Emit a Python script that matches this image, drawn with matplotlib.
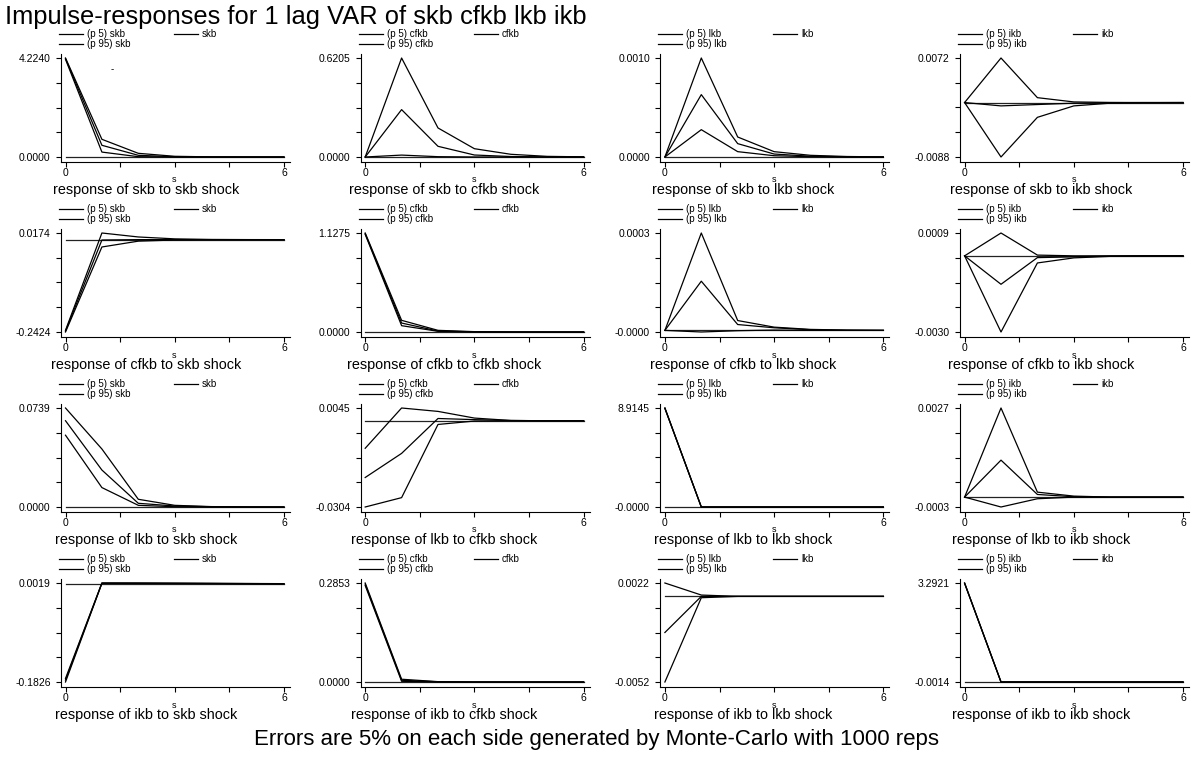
import numpy as np
import matplotlib.pyplot as plt
from matplotlib.lines import Line2D

plt.rcParams['font.family'] = ['Liberation Sans', 'DejaVu Sans']

W, H = 1192, 758

# variable order of the VAR
variables = ['skb', 'cfkb', 'lkb', 'ikb']
steps = [0, 1, 2, 3, 4, 5, 6]

# impulse responses: lo = 5th pct, irf = point estimate, hi = 95th pct
# row: response of skb
lo_skb_skb = [4.170, 0.210, 0.013, 0.001, 0.000, 0.000, 0.000]
irf_skb_skb = [4.200, 0.500, 0.072, 0.010, 0.002, 0.000, 0.000]
hi_skb_skb = [4.2240, 0.755, 0.157, 0.030, 0.006, 0.001, 0.000]

lo_skb_cfkb = [0, 0.012, 0.002, 0.0002, 0, 0, 0]
irf_skb_cfkb = [0, 0.297, 0.067, 0.0125, 0.003, 0.0005, 0.0001]
hi_skb_cfkb = [0, 0.6205, 0.182, 0.052, 0.017, 0.004, 0.001]

lo_skb_lkb = [0, 0.000276, 0.000054, 0.000013, 0.000003, 0, 0]
irf_skb_lkb = [0, 0.00063, 0.000135, 0.00003, 0.000008, 0.000002, 0]
hi_skb_lkb = [0, 0.0010, 0.000202, 0.000054, 0.000017, 0.000005, 0.000001]

lo_skb_ikb = [0, -0.0088, -0.00239, -0.00054, -0.0001, -0.00002, 0]
irf_skb_ikb = [0, -0.00054, -0.00032, -0.0001, -0.00003, 0, 0]
hi_skb_ikb = [0, 0.0072, 0.00079, 0.0001, 0.00002, 0, 0]

# row: response of cfkb
lo_cfkb_skb = [-0.2424, -0.0193, -0.0040, -0.0010, -0.0002, 0, 0]
irf_cfkb_skb = [-0.2400, -0.0010, 0.0000, 0.0000, 0, 0, 0]
hi_cfkb_skb = [-0.2380, 0.0174, 0.0070, 0.0020, 0.0005, 0.0001, 0]

lo_cfkb_cfkb = [1.1120, 0.072, 0.008, 0.001, 0, 0, 0]
irf_cfkb_cfkb = [1.1200, 0.102, 0.011, 0.002, 0, 0, 0]
hi_cfkb_cfkb = [1.1275, 0.133, 0.019, 0.004, 0.001, 0, 0]

lo_cfkb_lkb = [0, -0.000005, -0.000001, 0.000001, 0, 0, 0]
irf_cfkb_lkb = [0, 0.0001515, 0.000018, 0.000008, 0.000002, 0, 0]
hi_cfkb_lkb = [0, 0.00030, 0.0000303, 0.00001, 0.000003, 0.000001, 0]

lo_cfkb_ikb = [0, -0.0030, -0.00028, -0.00008, -0.00002, 0, 0]
irf_cfkb_ikb = [0, -0.00112, -0.00007, -0.00004, -0.00001, 0, 0]
hi_cfkb_ikb = [0, 0.0009, 0.00003, 0, 0, 0, 0]

# row: response of lkb
lo_lkb_skb = [0.0536, 0.0145, 0.00125, 0.0002, 0, 0, 0]
irf_lkb_skb = [0.0644, 0.0276, 0.00276, 0.00075, 0.0002, 0, 0]
hi_lkb_skb = [0.0739, 0.0433, 0.00576, 0.00125, 0.0003, 0.0001, 0]

lo_lkb_cfkb = [-0.0304, -0.0271, -0.0013, -0.0001, 0, 0, 0]
irf_lkb_cfkb = [-0.0200, -0.0115, 0.0008, 0.0004, 0.0001, 0, 0]
hi_lkb_cfkb = [-0.0097, 0.0045, 0.0033, 0.00095, 0.0001, 0, 0]

lo_lkb_lkb = [8.880, -0.00001, 0, 0, 0, 0, 0]
irf_lkb_lkb = [8.900, 0, 0, 0, 0, 0, 0]
hi_lkb_lkb = [8.9145, 0, 0, 0, 0, 0, 0]

lo_lkb_ikb = [0, -0.0003, -0.00005, 0, 0, 0, 0]
irf_lkb_ikb = [0, 0.00112, 0.00008, 0.00001, 0, 0, 0]
hi_lkb_ikb = [0, 0.0027, 0.00015, 0.00003, 0, 0, 0]

# row: response of ikb
lo_ikb_skb = [-0.1826, 0.0013, 0.0012, 0.0010, 0.0008, 0.0006, 0.0004]
irf_ikb_skb = [-0.1790, 0.0016, 0.0015, 0.0013, 0.0011, 0.0008, 0.0006]
hi_ikb_skb = [-0.1760, 0.0019, 0.0018, 0.0016, 0.0013, 0.0010, 0.0007]

lo_ikb_cfkb = [0.278, 0.002, 0.0003, 0, 0, 0, 0]
irf_ikb_cfkb = [0.282, 0.005, 0.0006, 0, 0, 0, 0]
hi_ikb_cfkb = [0.2853, 0.008, 0.001, 0.0001, 0, 0, 0]

lo_ikb_lkb = [-0.0052, 0.0011, 0.0012, 0.0012, 0.0012, 0.0012, 0.0012]
irf_ikb_lkb = [-0.0015, 0.0012, 0.0012, 0.0012, 0.0012, 0.0012, 0.0012]
hi_ikb_lkb = [0.0022, 0.0013, 0.0012, 0.0012, 0.0012, 0.0012, 0.0012]

lo_ikb_ikb = [3.280, -0.0014, -0.0012, -0.0010, -0.0008, -0.0006, -0.0004]
irf_ikb_ikb = [3.286, -0.0008, -0.0007, -0.0006, -0.0005, -0.0004, -0.0003]
hi_ikb_ikb = [3.2921, -0.0003, -0.0002, -0.0002, -0.0001, -0.0001, 0]

g = globals()

fig = plt.figure(figsize=(W / 100, H / 100), dpi=100)


def fx(px):
    return px / W


def fy(py):
    return 1 - py / H


for r, resp in enumerate(variables):
    for c, shock in enumerate(variables):
        lo = np.array(g['lo_%s_%s' % (resp, shock)])
        irf = np.array(g['irf_%s_%s' % (resp, shock)])
        hi = np.array(g['hi_%s_%s' % (resp, shock)])

        left = 61 + 299.7 * c
        width = 229
        top = 54 + 175 * r
        bottom = 162 + 175 * r
        ax = fig.add_axes([fx(left), fy(bottom), width / W, (bottom - top) / H])

        ymin = min(lo.min(), irf.min(), hi.min())
        ymax = max(lo.max(), irf.max(), hi.max())
        rng = ymax - ymin
        ax.set_ylim(ymin - 5 / 99 * rng, ymax + 4 / 99 * rng)
        ax.set_xlim(-4.5 / 36.4, (width - 4.5) / 36.4)

        # long-run level of the response
        ax.plot([0, 6], [irf[-1], irf[-1]], color='#222222', lw=0.9)
        ax.plot(steps, lo, color='black', lw=0.9)
        ax.plot(steps, irf, color='black', lw=0.9)
        ax.plot(steps, hi, color='black', lw=0.9)

        yt = np.linspace(ymin, ymax, 5)
        ax.set_yticks(yt)
        ax.set_yticklabels(['%.4f' % ymin, '', '', '', '%.4f' % ymax])
        ax.set_xticks([0, 1.5, 3, 4.5, 6])
        ax.set_xticklabels(['0', '', '', '', '6'])
        ax.tick_params(direction='out', length=3.5, width=0.8, labelsize=7.5)
        ax.tick_params(axis='x', pad=0.5)
        ax.tick_params(axis='y', pad=4)
        for side in ['top', 'right']:
            ax.spines[side].set_visible(False)
        for side in ['left', 'bottom']:
            ax.spines[side].set_linewidth(0.8)
        ax.patch.set_visible(False)

        # x-axis name and panel caption
        fig.text(fx(left + 4.5 + 109), fy(180 + 175 * r), 's', fontsize=6.5,
                 ha='center', va='center')
        fig.text(fx(146 + 298.5 * c), fy(190 + 175 * r),
                 'response of %s to %s shock' % (resp, shock), fontsize=10.4,
                 ha='center', va='center')

        # legend keys above the panel
        items = [('(p 5) %s' % shock, 0, 34), ('(p 95) %s' % shock, 0, 44),
                 (shock, 115, 34)]
        for label, dx, py in items:
            yy = fy(py + 175 * r)
            x0 = left - 2 + dx
            fig.add_artist(Line2D([fx(x0), fx(x0 + 24)], [yy, yy],
                                  color='black', lw=0.9))
            fig.text(fx(x0 + 28), yy, label, fontsize=7, ha='left',
                     va='center')

fig.text(fx(112), fy(69), '-', fontsize=7, ha='center', va='center')

fig.text(fx(5), fy(17), 'Impulse-responses for 1 lag VAR of skb cfkb lkb ikb',
         fontsize=18.4, ha='left', va='center')
fig.text(0.5, fy(739),
         'Errors are 5% on each side generated by Monte-Carlo with 1000 reps',
         fontsize=16, ha='center', va='center')

fig.savefig('out.png', dpi=100)
